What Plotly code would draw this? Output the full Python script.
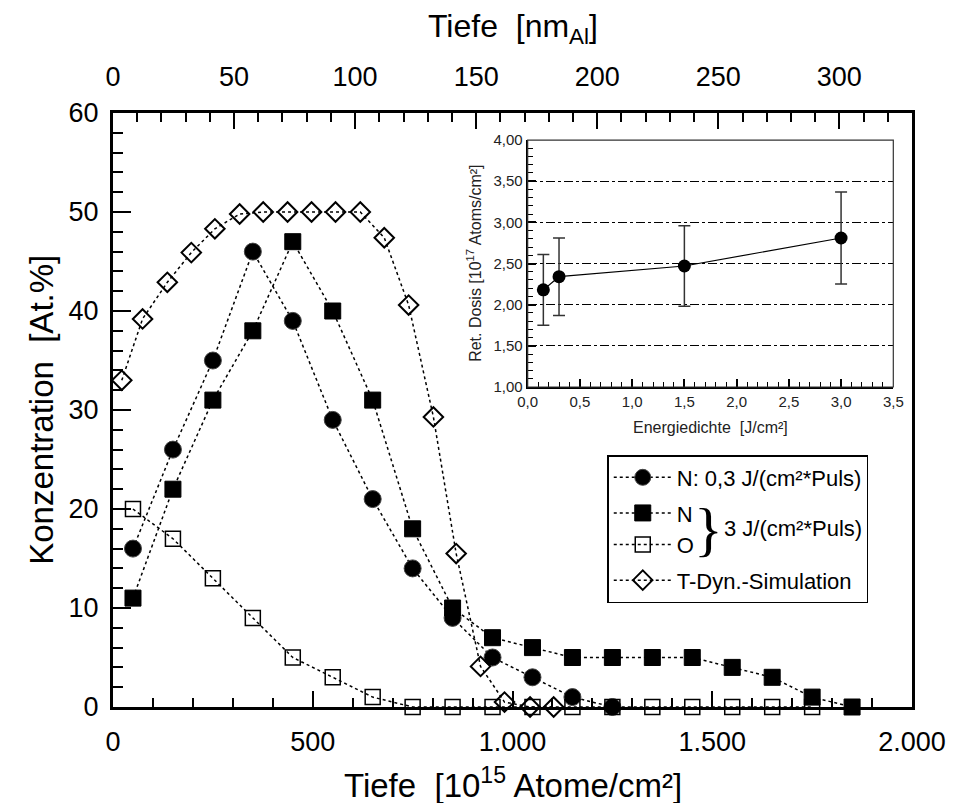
import plotly.graph_objects as go

# ---------------- data (main plot) ----------------
n03_x = [50, 150, 250, 350, 450, 550, 650, 750, 850, 950, 1050, 1150, 1250]
n03_y = [16, 26, 35, 46, 39, 29, 21, 14, 9, 5, 3, 1, 0]

n3_x = [50, 150, 250, 350, 450, 550, 650, 750, 850, 950, 1050, 1150, 1250,
        1350, 1450, 1550, 1650, 1750, 1850]
n3_y = [11, 22, 31, 38, 47, 40, 31, 18, 10, 7, 6, 5, 5, 5, 5, 4, 3, 1, 0]

o3_x = [50, 150, 250, 350, 450, 550, 650, 750, 850, 950, 1050, 1150, 1250,
        1350, 1450, 1550, 1650, 1750]
o3_y = [20, 17, 13, 9, 5, 3, 1, 0, 0, 0, 0, 0, 0, 0, 0, 0, 0, 0]

sim_x = [22, 74, 136, 196, 255, 317, 376, 437, 497, 557, 619, 679, 740, 802,
         859, 920, 980, 1044, 1103]
sim_y = [33.0, 39.2, 42.9, 45.9, 48.3, 49.8, 50, 50, 50, 50, 50, 47.4, 40.6,
         29.3, 15.5, 4.1, 0.5, 0, 0]

bottom_tickvals = [0, 500, 1000, 1500, 2000]
bottom_ticktext = ["0", "500", "1.000", "1.500", "2.000"]
top_tickvals = [0, 50, 100, 150, 200, 250, 300]
left_tickvals = [0, 10, 20, 30, 40, 50, 60]

# ---------------- data (inset) ----------------
energy = [0.15, 0.3, 1.5, 3.0]
dose = [2.18, 2.34, 2.47, 2.81]
dose_err_plus = [0.43, 0.47, 0.49, 0.56]
dose_err_minus = [0.43, 0.47, 0.49, 0.56]

FONT = "Liberation Sans, Arial, Helvetica, sans-serif"
line_style = dict(color="black", width=1.5, dash="dot")

fig = go.Figure()

fig.add_trace(go.Scatter(
    x=n03_x, y=n03_y, mode="lines+markers", name="N: 0,3 J/(cm²*Puls)",
    line=line_style, legendgroup="g1", cliponaxis=False,
    marker=dict(symbol="circle", size=17, color="black",
                line=dict(color="#444", width=1))))
fig.add_trace(go.Scatter(
    x=n3_x, y=n3_y, mode="lines+markers", name="N",
    line=line_style, legendgroup="g2", cliponaxis=False,
    marker=dict(symbol="square", size=16, color="black",
                line=dict(color="black", width=1))))
fig.add_trace(go.Scatter(
    x=o3_x, y=o3_y, mode="lines+markers", name="O",
    line=line_style, legendgroup="g2", cliponaxis=False,
    marker=dict(symbol="square-open", size=15, color="black",
                line=dict(color="black", width=1.5))))
fig.add_trace(go.Scatter(
    x=sim_x, y=sim_y, mode="lines+markers", name="T-Dyn.-Simulation",
    line=line_style, legendgroup="g3", cliponaxis=False,
    marker=dict(symbol="diamond-open", size=15, color="black",
                line=dict(color="black", width=2))))

# invisible trace to activate the top axis
fig.add_trace(go.Scatter(x=[0], y=[0], xaxis="x2", yaxis="y", mode="markers",
                         marker=dict(opacity=0), showlegend=False,
                         hoverinfo="skip"))

# inset
fig.add_trace(go.Scatter(
    x=energy, y=dose, xaxis="x3", yaxis="y3", mode="lines+markers",
    showlegend=False, line=dict(color="black", width=1.2),
    marker=dict(symbol="circle", size=13, color="black"),
    error_y=dict(type="data", array=dose_err_plus,
                 arrayminus=dose_err_minus, color="#333",
                 thickness=1.5, width=6)))

axis_common = dict(showgrid=False, zeroline=False, showline=True,
                   linecolor="black", linewidth=3, ticks="inside",
                   tickcolor="black", tickwidth=2,
                   tickfont=dict(family=FONT, size=27, color="black"))

# The page body has an 8px margin, so the figure is 950x795 inside 966x811.
fig.update_layout(
    width=950, height=795,
    margin=dict(l=105, r=34, t=105, b=96),
    plot_bgcolor="white", paper_bgcolor="white",
    separators=",.",
    font=dict(family=FONT, color="black"),
    showlegend=True,
    xaxis=dict(range=[0, 2000], tickmode="array", tickvals=bottom_tickvals,
               ticktext=bottom_ticktext, ticklen=16, ticklabelstandoff=9,
               minor=dict(dtick=100, tick0=0, ticks="inside", ticklen=9,
                          tickwidth=2, tickcolor="black"),
               **axis_common),
    xaxis2=dict(range=[0, 330], overlaying="x", side="top", anchor="y",
                tickmode="array", tickvals=top_tickvals, ticklen=16,
                ticklabelstandoff=13,
                minor=dict(dtick=10, tick0=0, ticks="inside", ticklen=9,
                           tickwidth=2, tickcolor="black"),
                **axis_common),
    yaxis=dict(range=[0, 60], tickmode="array", tickvals=left_tickvals,
               ticklen=18, mirror=True, ticklabelstandoff=6,
               minor=dict(dtick=2, tick0=0, ticks="inside", ticklen=10,
                          tickwidth=2, tickcolor="black"),
               **axis_common),
    xaxis3=dict(domain=[0.519, 0.9766], anchor="y3", range=[0, 3.5],
                dtick=0.5, tick0=0, tickformat=".1f", showgrid=False,
                zeroline=False, showline=True, linecolor="black",
                linewidth=2, ticks="inside", ticklen=8, tickwidth=1.5,
                tickcolor="black",
                minor=dict(dtick=0.1, ticks="inside", ticklen=5,
                           tickwidth=1.2, tickcolor="black"),
                tickfont=dict(family=FONT, size=15, color="#222")),
    yaxis3=dict(domain=[0.5387, 0.9545], anchor="x3", range=[1, 4],
                dtick=0.5, tick0=1, tickformat=".2f", showgrid=True,
                gridcolor="black", gridwidth=1, griddash="dashdot",
                zeroline=False, showline=True, linecolor="black",
                linewidth=2, ticks="inside", ticklen=8, tickwidth=1.5,
                tickcolor="black",
                minor=dict(dtick=0.1, ticks="inside", ticklen=5,
                           tickwidth=1.2, tickcolor="black"),
                tickfont=dict(family=FONT, size=15, color="#222")),
    legend=dict(x=0.6186, y=0.4242, xanchor="left", yanchor="top",
                bgcolor="white", bordercolor="black", borderwidth=1.5,
                font=dict(family=FONT, size=22, color="black"),
                traceorder="grouped", tracegroupgap=4, itemwidth=58),
)

# inset frame (thin top/right borders)
fig.add_shape(type="rect", xref="x3 domain", yref="y3 domain",
              x0=0, x1=1, y0=0, y1=1, line=dict(color="#333", width=1.2))

ann = []
ann.append(dict(text="Tiefe  [10<sup>15</sup> Atome/cm²]", xref="paper",
                yref="paper", x=0.5, y=-0.128, showarrow=False,
                xanchor="center", yanchor="middle",
                font=dict(family=FONT, size=33, color="black")))
ann.append(dict(text="Tiefe  [nm<sub>Al</sub>]", xref="paper", yref="paper",
                x=0.5, y=1.143, showarrow=False, xanchor="center",
                yanchor="middle", font=dict(family=FONT, size=32, color="black")))
ann.append(dict(text="Konzentration  [At.%]", xref="paper", yref="paper",
                x=-0.0904, y=0.5, showarrow=False, textangle=-90,
                xanchor="center", yanchor="middle",
                font=dict(family=FONT, size=33, color="black")))
ann.append(dict(text="Energiedichte  [J/cm²]", xref="paper", yref="paper",
                x=0.748, y=0.471, showarrow=False, xanchor="center",
                yanchor="middle", font=dict(family=FONT, size=16, color="#222")))
ann.append(dict(text="Ret. Dosis [10<sup>17</sup> Atoms/cm²]", xref="paper",
                yref="paper", x=0.451, y=0.7466, showarrow=False,
                textangle=-90, xanchor="center", yanchor="middle",
                font=dict(family=FONT, size=16, color="#222")))
ann.append(dict(text="}", xref="paper", yref="paper", x=0.7457, y=0.2997,
                showarrow=False, xanchor="center", yanchor="middle",
                font=dict(family="Liberation Serif, Times New Roman, serif",
                          size=60, color="black")))
ann.append(dict(text="3 J/(cm²*Puls)", xref="paper", yref="paper",
                x=0.7618, y=0.2997, showarrow=False, xanchor="left",
                yanchor="middle", font=dict(family=FONT, size=22, color="black")))
fig.update_layout(annotations=ann)

fig.write_html("out.html")
